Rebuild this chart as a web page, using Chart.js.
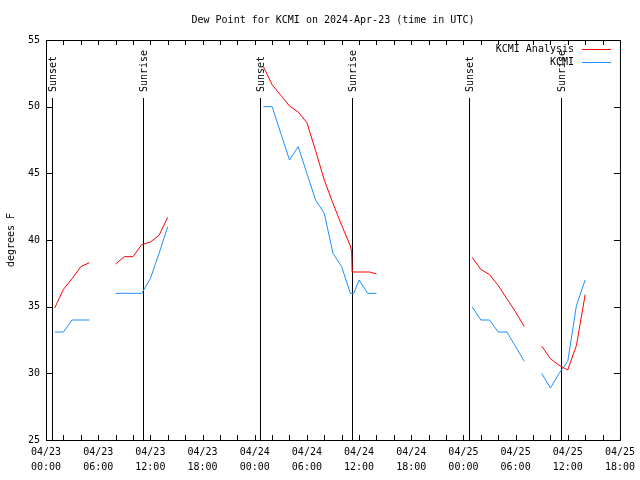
<!DOCTYPE html>
<html><head><meta charset="utf-8">
<script src="https://cdn.jsdelivr.net/npm/chart.js@4/dist/chart.umd.min.js"></script>
<style>html,body{margin:0;padding:0;background:#fff;}canvas{display:block;}</style>
</head><body>
<canvas id="c" width="640" height="480"></canvas>
<script>
const chartTitle = 'Dew Point for KCMI on 2024-Apr-23 (time in UTC)';
const yAxisTitle = 'degrees F';
const seriesNames = ['KCMI Analysis', 'KCMI'];
const dayLabels = ['04/23', '04/24', '04/25'];
const yTickValues = [25, 30, 35, 40, 45, 50, 55];

// hours since 2024-04-23 00:00 UTC; null = gap in the line
const analysisHours = [1, 2, 3, 4, 5, 6.5,
  8, 9, 10, 11, 12, 13, 14, 20,
  25, 26, 27, 28, 29, 30, 31, 32, 33, 34, 35, 35.15, 35.2, 37.2, 38, 44,
  49, 50, 51, 52, 53, 54, 55, 56,
  57, 58, 59, 60, 61, 62];
const analysisValues = [34.9, 36.3, 37.1, 38.0, 38.3, null,
  38.2, 38.75, 38.75, 39.65, 39.85, 40.35, 41.7, null,
  53.0, 51.65, 50.85, 50.05, 49.6, 48.8, 46.7, 44.5, 42.75, 41.1, 39.55, 39.1, 37.6, 37.6, 37.45, null,
  38.7, 37.8, 37.4, 36.6, 35.6, 34.6, 33.5, null,
  32.05, 31.1, 30.6, 30.25, 32.1, 35.9];

const obsHours = [1, 2, 3, 4, 5, 6.5,
  8, 9, 10, 11, 12, 13, 14, 20,
  25, 26, 27, 28, 29, 30, 31, 32, 33, 34, 35, 35.4, 36, 37, 38, 44,
  49, 50, 51, 52, 53, 54, 55, 56,
  57, 58, 59, 60, 61, 62];
const obsValues = [33.1, 33.1, 34, 34, 34, null,
  36, 36, 36, 36, 37.1, 39, 41, null,
  50, 50, 48, 46, 47, 45, 43, 42, 39, 38, 36, 36, 37, 36, 36, null,
  35, 34, 34, 33.1, 33.1, 32, 30.9, null,
  30, 28.9, 30, 30.9, 35.1, 37];

const sunHours = [0.65, 11.17, 24.66, 35.2, 48.62, 59.22];
const sunLabels = ['Sunset', 'Sunrise', 'Sunset', 'Sunrise', 'Sunset', 'Sunrise'];

const FONT = '"DejaVu Sans Mono", "Liberation Mono", monospace';
const RED = '#ff0000';
const BLUE = '#1e90ff';

function toPoints(hs, vs) {
  return hs.map((h, i) => ({ x: h, y: vs[i] }));
}

const decor = {
  id: 'decor',
  beforeDatasetsDraw(chart) {
    const ctx = chart.ctx;
    const xs = chart.scales.x, a = chart.chartArea;
    ctx.save();
    ctx.strokeStyle = '#000';
    ctx.lineWidth = 1;
    ctx.fillStyle = '#000';
    ctx.font = '10px ' + FONT;
    sunHours.forEach((h, i) => {
      const px = Math.round(xs.getPixelForValue(h)) + 0.5;
      ctx.beginPath();
      ctx.moveTo(px, 98);
      ctx.lineTo(px, a.bottom);
      ctx.stroke();
      ctx.save();
      ctx.translate(px + 1, 92);
      ctx.rotate(-Math.PI / 2);
      ctx.textAlign = 'left';
      ctx.textBaseline = 'middle';
      ctx.fillText(sunLabels[i], 0, 0);
      ctx.restore();
    });
    ctx.restore();
  },
  afterDraw(chart) {
    const ctx = chart.ctx;
    const xs = chart.scales.x, ys = chart.scales.y, a = chart.chartArea;
    ctx.save();
    ctx.strokeStyle = '#000';
    ctx.lineWidth = 1;
    // border
    ctx.strokeRect(a.left + 0.5, a.top + 0.5, a.right - a.left, a.bottom - a.top);
    // x ticks every 2 hours, inward, top and bottom
    ctx.beginPath();
    for (let h = 0; h <= 66; h += 2) {
      const px = Math.round(xs.getPixelForValue(h)) + 0.5;
      ctx.moveTo(px, a.bottom); ctx.lineTo(px, a.bottom - 5);
      ctx.moveTo(px, a.top); ctx.lineTo(px, a.top + 5);
    }
    // y ticks inward, left and right
    yTickValues.forEach(v => {
      const py = Math.round(ys.getPixelForValue(v)) + 0.5;
      ctx.moveTo(a.left, py); ctx.lineTo(a.left + 6, py);
      ctx.moveTo(a.right, py); ctx.lineTo(a.right - 6, py);
    });
    ctx.stroke();

    ctx.fillStyle = '#000';
    ctx.font = '10px ' + FONT;
    // title
    ctx.textAlign = 'center';
    ctx.textBaseline = 'middle';
    ctx.fillText(chartTitle, (a.left + a.right) / 2, 20);
    // y axis title
    ctx.save();
    ctx.translate(11, (a.top + a.bottom) / 2);
    ctx.rotate(-Math.PI / 2);
    ctx.fillText(yAxisTitle, 0, 0);
    ctx.restore();
    // legend
    const colors = [RED, BLUE];
    seriesNames.forEach((name, i) => {
      const y = 49 + i * 13;
      ctx.fillStyle = '#000';
      ctx.textAlign = 'right';
      ctx.fillText(name, 574, y);
      ctx.strokeStyle = colors[i];
      ctx.beginPath();
      ctx.moveTo(582, y + 0.5);
      ctx.lineTo(611, y + 0.5);
      ctx.stroke();
    });
    ctx.restore();
  }
};

new Chart(document.getElementById('c'), {
  type: 'line',
  data: {
    datasets: [
      { label: seriesNames[0], data: toPoints(analysisHours, analysisValues),
        borderColor: RED, backgroundColor: RED, borderWidth: 1, pointRadius: 0, tension: 0, spanGaps: false },
      { label: seriesNames[1], data: toPoints(obsHours, obsValues),
        borderColor: BLUE, backgroundColor: BLUE, borderWidth: 1, pointRadius: 0, tension: 0, spanGaps: false }
    ]
  },
  options: {
    responsive: false,
    animation: false,
    layout: { padding: { left: 0, top: 40, right: 20, bottom: 0 } },
    plugins: { legend: { display: false }, title: { display: false }, tooltip: { enabled: false } },
    scales: {
      x: {
        type: 'linear', min: 0, max: 66,
        grid: { display: false, drawTicks: false },
        border: { display: false },
        afterFit: s => { s.height = 40; },
        ticks: {
          stepSize: 6, autoSkip: false, maxRotation: 0, padding: 5,
          color: '#000', font: { family: FONT, size: 10, lineHeight: 1.5 },
          callback: v => {
            if (v % 6 !== 0) return '';
            const d = Math.floor(v / 24);
            const hh = v % 24;
            return [dayLabels[d] || '04/26', String(hh).padStart(2, '0') + ':00'];
          }
        }
      },
      y: {
        min: 25, max: 55,
        grid: { display: false, drawTicks: false },
        border: { display: false },
        afterFit: s => { s.width = 46; },
        ticks: { stepSize: 5, padding: 6, color: '#000', font: { family: FONT, size: 10 } }
      }
    }
  },
  plugins: [decor]
});
</script>
</body></html>
